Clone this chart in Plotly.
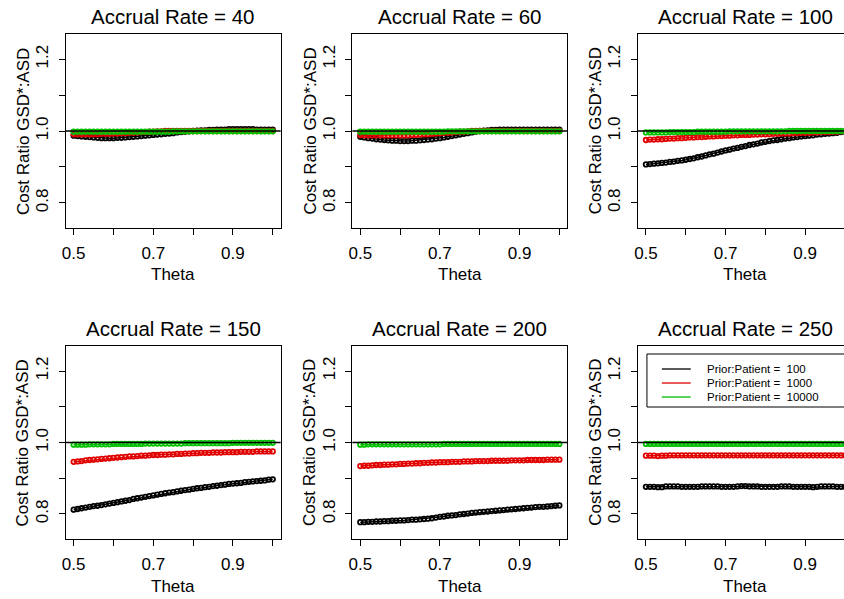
import plotly.graph_objects as go

# ---------------- data ----------------
theta = [0.50, 0.51, 0.52, 0.53, 0.54, 0.55, 0.56, 0.57, 0.58, 0.59,
         0.60, 0.61, 0.62, 0.63, 0.64, 0.65, 0.66, 0.67, 0.68, 0.69,
         0.70, 0.71, 0.72, 0.73, 0.74, 0.75, 0.76, 0.77, 0.78, 0.79,
         0.80, 0.81, 0.82, 0.83, 0.84, 0.85, 0.86, 0.87, 0.88, 0.89,
         0.90, 0.91, 0.92, 0.93, 0.94, 0.95, 0.96, 0.97, 0.98, 0.99, 1.00]

accrual_rates = [40, 60, 100, 150, 200, 250]
prior_patient = [100, 1000, 10000]
x_ticks = [0.5, 0.6, 0.7, 0.8, 0.9, 1.0]
x_tick_labels = ["0.5", "", "0.7", "", "0.9", ""]
y_ticks = [0.8, 0.9, 1.0, 1.1, 1.2]
y_tick_labels = ["0.8", "", "1.0", "", "1.2"]

# Accrual rate 40
ar40_pp100 = [0.987, 0.986, 0.985, 0.984, 0.983, 0.982, 0.981, 0.980, 0.980, 0.980,
              0.980, 0.981, 0.981, 0.982, 0.983, 0.984, 0.985, 0.986, 0.987, 0.988,
              0.989, 0.990, 0.991, 0.992, 0.993, 0.994, 0.996, 0.997, 0.998, 0.999,
              1.000, 1.001, 1.002, 1.002, 1.003, 1.003, 1.004, 1.004, 1.004, 1.005,
              1.005, 1.005, 1.005, 1.005, 1.005, 1.005, 1.004, 1.004, 1.004, 1.004, 1.004]
ar40_pp1000 = [0.991, 0.991, 0.991, 0.991, 0.991, 0.991, 0.991, 0.992, 0.992, 0.992,
               0.993, 0.993, 0.994, 0.994, 0.995, 0.995, 0.996, 0.997, 0.997, 0.998,
               0.998, 0.999, 0.999, 1.000, 1.000, 1.000, 1.000, 1.000, 1.000, 1.000,
               1.000, 1.000, 1.000, 1.000, 1.000, 1.000, 1.000, 1.000, 1.000, 1.000,
               1.000, 1.000, 1.000, 1.000, 1.000, 1.000, 1.000, 1.000, 1.000, 1.000, 1.000]
ar40_pp10000 = [0.998, 0.998, 0.998, 0.998, 0.998, 0.998, 0.998, 0.998, 0.998, 0.998,
                0.998, 0.998, 0.998, 0.998, 0.998, 0.998, 0.998, 0.998, 0.998, 0.998,
                0.998, 0.998, 0.998, 0.998, 0.998, 0.999, 0.999, 0.999, 0.999, 0.999,
                0.999, 0.999, 0.999, 0.999, 0.999, 0.999, 0.999, 0.999, 0.999, 0.999,
                0.999, 0.999, 0.999, 0.999, 0.999, 0.999, 0.999, 0.999, 0.999, 0.999, 0.999]

# Accrual rate 60
ar60_pp100 = [0.984, 0.982, 0.980, 0.979, 0.977, 0.976, 0.975, 0.974, 0.973, 0.973,
              0.972, 0.972, 0.972, 0.973, 0.973, 0.974, 0.975, 0.976, 0.977, 0.979,
              0.980, 0.982, 0.984, 0.986, 0.988, 0.990, 0.992, 0.994, 0.996, 0.998,
              1.000, 1.001, 1.002, 1.003, 1.003, 1.004, 1.004, 1.004, 1.004, 1.004,
              1.004, 1.004, 1.004, 1.004, 1.004, 1.004, 1.004, 1.004, 1.004, 1.004, 1.004]
ar60_pp1000 = [0.989, 0.988, 0.988, 0.988, 0.988, 0.988, 0.988, 0.988, 0.988, 0.988,
               0.988, 0.988, 0.988, 0.989, 0.989, 0.990, 0.991, 0.991, 0.992, 0.993,
               0.994, 0.995, 0.995, 0.996, 0.997, 0.998, 0.998, 0.999, 1.000, 1.000,
               1.000, 1.000, 1.000, 1.000, 1.000, 1.000, 1.000, 1.000, 1.000, 1.000,
               1.000, 1.000, 1.000, 1.000, 1.000, 1.000, 1.000, 1.000, 1.000, 1.000, 1.000]
ar60_pp10000 = [0.998, 0.998, 0.998, 0.998, 0.998, 0.998, 0.998, 0.998, 0.998, 0.998,
                0.998, 0.998, 0.998, 0.998, 0.998, 0.998, 0.998, 0.998, 0.998, 0.998,
                0.998, 0.998, 0.999, 0.999, 0.999, 0.999, 0.999, 0.999, 0.999, 0.999,
                0.999, 0.999, 0.999, 0.999, 0.999, 0.999, 0.999, 0.999, 0.999, 0.999,
                0.999, 0.999, 0.999, 0.999, 0.999, 0.999, 0.999, 0.999, 0.999, 0.999, 0.999]

# Accrual rate 100
ar100_pp100 = [0.907, 0.908, 0.909, 0.910, 0.911, 0.912, 0.914, 0.915, 0.917, 0.918,
               0.920, 0.922, 0.924, 0.927, 0.929, 0.932, 0.935, 0.937, 0.940, 0.943,
               0.946, 0.948, 0.951, 0.953, 0.956, 0.958, 0.961, 0.963, 0.965, 0.968,
               0.970, 0.972, 0.974, 0.975, 0.977, 0.979, 0.980, 0.982, 0.983, 0.985,
               0.986, 0.987, 0.988, 0.990, 0.991, 0.992, 0.993, 0.994, 0.995, 0.997, 0.998]
ar100_pp1000 = [0.975, 0.976, 0.976, 0.977, 0.977, 0.978, 0.979, 0.979, 0.980, 0.980,
                0.981, 0.982, 0.982, 0.983, 0.983, 0.984, 0.985, 0.985, 0.986, 0.986,
                0.987, 0.987, 0.988, 0.988, 0.989, 0.989, 0.989, 0.990, 0.990, 0.991,
                0.991, 0.991, 0.992, 0.992, 0.993, 0.993, 0.993, 0.994, 0.994, 0.995,
                0.995, 0.995, 0.996, 0.996, 0.997, 0.997, 0.997, 0.998, 0.998, 0.999, 0.999]
ar100_pp10000 = [0.996, 0.996, 0.996, 0.996, 0.996, 0.996, 0.997, 0.997, 0.997, 0.997,
                 0.997, 0.997, 0.997, 0.998, 0.998, 0.998, 0.998, 0.998, 0.998, 0.998,
                 0.998, 0.999, 0.999, 0.999, 0.999, 0.999, 0.999, 0.999, 0.999, 0.999,
                 0.999, 0.999, 0.999, 0.999, 0.999, 0.999, 1.000, 1.000, 1.000, 1.000,
                 1.000, 1.000, 1.000, 1.000, 1.000, 1.000, 1.000, 1.000, 1.000, 1.000, 1.000]

# Accrual rate 150
ar150_pp100 = [0.812, 0.814, 0.816, 0.818, 0.820, 0.822, 0.823, 0.825, 0.827, 0.829,
               0.831, 0.833, 0.835, 0.837, 0.839, 0.842, 0.844, 0.846, 0.848, 0.850,
               0.852, 0.854, 0.856, 0.858, 0.860, 0.861, 0.863, 0.865, 0.867, 0.868,
               0.870, 0.872, 0.873, 0.875, 0.876, 0.878, 0.879, 0.881, 0.882, 0.884,
               0.885, 0.886, 0.887, 0.889, 0.890, 0.891, 0.892, 0.893, 0.894, 0.896, 0.897]
ar150_pp1000 = [0.946, 0.947, 0.948, 0.950, 0.951, 0.952, 0.953, 0.954, 0.955, 0.956,
                0.957, 0.958, 0.959, 0.960, 0.961, 0.961, 0.962, 0.963, 0.963, 0.964,
                0.965, 0.965, 0.966, 0.966, 0.967, 0.967, 0.968, 0.968, 0.969, 0.969,
                0.970, 0.970, 0.971, 0.971, 0.971, 0.972, 0.972, 0.972, 0.973, 0.973,
                0.973, 0.973, 0.974, 0.974, 0.974, 0.974, 0.975, 0.975, 0.975, 0.975, 0.975]
ar150_pp10000 = [0.994, 0.994, 0.994, 0.994, 0.995, 0.995, 0.995, 0.995, 0.995, 0.995,
                 0.996, 0.996, 0.996, 0.996, 0.996, 0.996, 0.996, 0.996, 0.997, 0.997,
                 0.997, 0.997, 0.997, 0.997, 0.997, 0.997, 0.997, 0.997, 0.998, 0.998,
                 0.998, 0.998, 0.998, 0.998, 0.998, 0.998, 0.998, 0.998, 0.998, 0.998,
                 0.999, 0.999, 0.999, 0.999, 0.999, 0.999, 0.999, 0.999, 0.999, 0.999, 0.999]

# Accrual rate 200
ar200_pp100 = [0.777, 0.777, 0.778, 0.778, 0.779, 0.779, 0.780, 0.780, 0.781, 0.781,
               0.782, 0.782, 0.783, 0.784, 0.784, 0.785, 0.786, 0.787, 0.788, 0.790,
               0.792, 0.793, 0.795, 0.796, 0.797, 0.799, 0.800, 0.801, 0.803, 0.804,
               0.805, 0.806, 0.807, 0.808, 0.809, 0.810, 0.811, 0.812, 0.813, 0.814,
               0.815, 0.816, 0.817, 0.818, 0.819, 0.820, 0.820, 0.821, 0.822, 0.823, 0.824]
ar200_pp1000 = [0.934, 0.935, 0.935, 0.936, 0.937, 0.937, 0.938, 0.938, 0.939, 0.939,
                0.940, 0.940, 0.941, 0.941, 0.942, 0.942, 0.943, 0.943, 0.944, 0.944,
                0.945, 0.945, 0.945, 0.946, 0.946, 0.946, 0.947, 0.947, 0.947, 0.948,
                0.948, 0.948, 0.948, 0.949, 0.949, 0.949, 0.949, 0.949, 0.950, 0.950,
                0.950, 0.950, 0.951, 0.951, 0.951, 0.951, 0.951, 0.952, 0.952, 0.952, 0.952]
ar200_pp10000 = [0.994, 0.994, 0.995, 0.995, 0.995, 0.995, 0.995, 0.995, 0.995, 0.995,
                 0.995, 0.995, 0.995, 0.995, 0.995, 0.995, 0.995, 0.995, 0.995, 0.995,
                 0.995, 0.996, 0.996, 0.996, 0.996, 0.996, 0.996, 0.996, 0.996, 0.996,
                 0.996, 0.996, 0.996, 0.996, 0.996, 0.996, 0.996, 0.996, 0.996, 0.996,
                 0.996, 0.996, 0.996, 0.996, 0.996, 0.996, 0.996, 0.996, 0.996, 0.996, 0.996]

# Accrual rate 250
ar250_pp100 = [0.876, 0.876, 0.876, 0.875, 0.875, 0.877, 0.877, 0.877, 0.877, 0.876,
               0.876, 0.876, 0.876, 0.876, 0.877, 0.877, 0.877, 0.877, 0.877, 0.876,
               0.876, 0.876, 0.876, 0.877, 0.878, 0.878, 0.877, 0.877, 0.877, 0.876,
               0.876, 0.876, 0.876, 0.876, 0.877, 0.877, 0.877, 0.876, 0.876, 0.876,
               0.876, 0.876, 0.875, 0.876, 0.877, 0.877, 0.877, 0.877, 0.876, 0.876, 0.876]
ar250_pp1000 = [0.963, 0.963, 0.963, 0.962, 0.963, 0.963, 0.964, 0.964, 0.964, 0.964,
                0.964, 0.964, 0.964, 0.964, 0.964, 0.964, 0.964, 0.964, 0.964, 0.964,
                0.964, 0.964, 0.964, 0.964, 0.964, 0.964, 0.964, 0.964, 0.964, 0.964,
                0.964, 0.964, 0.964, 0.964, 0.964, 0.964, 0.964, 0.964, 0.964, 0.964,
                0.964, 0.964, 0.964, 0.964, 0.964, 0.964, 0.964, 0.964, 0.964, 0.964, 0.964]
ar250_pp10000 = [0.996, 0.996, 0.996, 0.996, 0.996, 0.996, 0.996, 0.996, 0.996, 0.996,
                 0.996, 0.996, 0.996, 0.996, 0.996, 0.996, 0.996, 0.996, 0.996, 0.996,
                 0.996, 0.996, 0.996, 0.996, 0.996, 0.996, 0.996, 0.996, 0.996, 0.996,
                 0.996, 0.996, 0.996, 0.996, 0.996, 0.996, 0.996, 0.996, 0.996, 0.996,
                 0.996, 0.996, 0.996, 0.996, 0.996, 0.996, 0.996, 0.996, 0.996, 0.996, 0.996]

panel_series = [
    [ar40_pp100, ar40_pp1000, ar40_pp10000],
    [ar60_pp100, ar60_pp1000, ar60_pp10000],
    [ar100_pp100, ar100_pp1000, ar100_pp10000],
    [ar150_pp100, ar150_pp1000, ar150_pp10000],
    [ar200_pp100, ar200_pp1000, ar200_pp10000],
    [ar250_pp100, ar250_pp1000, ar250_pp10000],
]
series_colors = ["#000000", "#E00000", "#00C000"]

# ---------------- layout geometry (pixels) ----------------
W, H = 844, 599
FONT = "Liberation Sans, Arial, Helvetica, sans-serif"
col_left = [62, 350, 637]
col_right = [278, 566, 844]      # third panel is cut off by the image edge
col_center = [170, 458, 745]
row_top = [34, 346]
row_bottom = [228, 539]
x_range_full = [0.48, 1.02]
x_range_cut = [0.48, 0.48 + (844 - 637) / 400.0]
y_range = [0.73, 1.27]

fig = go.Figure()
annotations = []
shapes = []

for i, rate in enumerate(accrual_rates):
    r, c = divmod(i, 3)
    ax = "" if i == 0 else str(i + 1)
    xa, ya = "x" + ax, "y" + ax
    for k, vals in enumerate(panel_series[i]):
        fig.add_trace(go.Scatter(
            x=theta, y=vals, mode="lines+markers", xaxis=xa, yaxis=ya,
            line=dict(color=series_colors[k], width=1.5),
            marker=dict(symbol="circle-open", size=4.5, color=series_colors[k],
                        line=dict(width=1.8, color=series_colors[k])),
            showlegend=False,
            name="Prior:Patient = %d" % prior_patient[k],
        ))
    xaxis = dict(
        domain=[col_left[c] / W, col_right[c] / W],
        range=x_range_cut if c == 2 else x_range_full,
        anchor=ya, tickvals=x_ticks, ticktext=x_tick_labels,
        ticks="outside", ticklen=6, tickwidth=1, tickcolor="black",
        showline=True, linecolor="black", linewidth=1, mirror=True,
        showgrid=False, zeroline=False,
        tickfont=dict(family=FONT, size=17, color="black"),
        ticklabelstandoff=4,
    )
    yaxis = dict(
        domain=[1 - row_bottom[r] / H, 1 - row_top[r] / H],
        range=y_range, anchor=xa, tickvals=y_ticks, ticktext=y_tick_labels,
        ticks="outside", ticklen=6, tickwidth=1, tickcolor="black",
        showline=True, linecolor="black", linewidth=1, mirror=(c != 2),
        showgrid=False, zeroline=False, tickangle=-90,
        tickfont=dict(family=FONT, size=17, color="black"),
        ticklabelstandoff=4,
    )
    fig.update_layout(**{"xaxis" + ax: xaxis, "yaxis" + ax: yaxis})

    # reference line at 1
    shapes.append(dict(type="line", xref=xa + " domain", yref=ya, x0=0, x1=1,
                       y0=1.0, y1=1.0, line=dict(color="black", width=1.3)))
    # panel title
    annotations.append(dict(text="Accrual Rate = %d" % rate, xref="paper", yref="paper",
                            x=col_center[c] / W, y=1 - (row_top[r] - 18) / H,
                            xanchor="center", yanchor="middle", showarrow=False,
                            font=dict(family=FONT, size=20.5, color="black")))
    # x title
    annotations.append(dict(text="Theta", xref="paper", yref="paper",
                            x=col_center[c] / W, y=1 - (row_bottom[r] + 47) / H,
                            xanchor="center", yanchor="middle", showarrow=False,
                            font=dict(family=FONT, size=17, color="black")))
    # y title
    annotations.append(dict(text="Cost Ratio GSD*:ASD", xref="paper", yref="paper",
                            x=(col_left[c] - 43) / W,
                            y=1 - (row_top[r] + row_bottom[r]) / 2 / H,
                            xanchor="center", yanchor="middle", showarrow=False,
                            textangle=-90,
                            font=dict(family=FONT, size=17, color="black")))

# ---------------- legend (last panel) ----------------
leg_left, leg_top, leg_bottom = 646, 354, 407
shapes.append(dict(type="rect", xref="paper", yref="paper",
                   x0=leg_left / W, x1=870 / W, y0=1 - leg_bottom / H, y1=1 - leg_top / H,
                   line=dict(color="black", width=1), fillcolor="white", layer="above"))
for k, pp in enumerate(prior_patient):
    yy = 1 - (369 + 14 * k) / H
    shapes.append(dict(type="line", xref="paper", yref="paper",
                       x0=661 / W, x1=690 / W, y0=yy, y1=yy, layer="above",
                       line=dict(color=series_colors[k], width=1.3)))
    annotations.append(dict(text="Prior:Patient =  %d" % pp, xref="paper", yref="paper",
                            x=705 / W, y=yy, xanchor="left", yanchor="middle",
                            showarrow=False, borderpad=0,
                            font=dict(family=FONT, size=11.5, color="black")))

fig.update_layout(
    width=W, height=H, margin=dict(l=0, r=0, t=0, b=0),
    paper_bgcolor="white", plot_bgcolor="white",
    showlegend=False, shapes=shapes, annotations=annotations,
    font=dict(family=FONT, color="black"),
)

fig.write_html("out.html",
               config={"displayModeBar": False},
               post_script="document.body.style.margin='0';"
                           "document.body.style.overflow='hidden';")
